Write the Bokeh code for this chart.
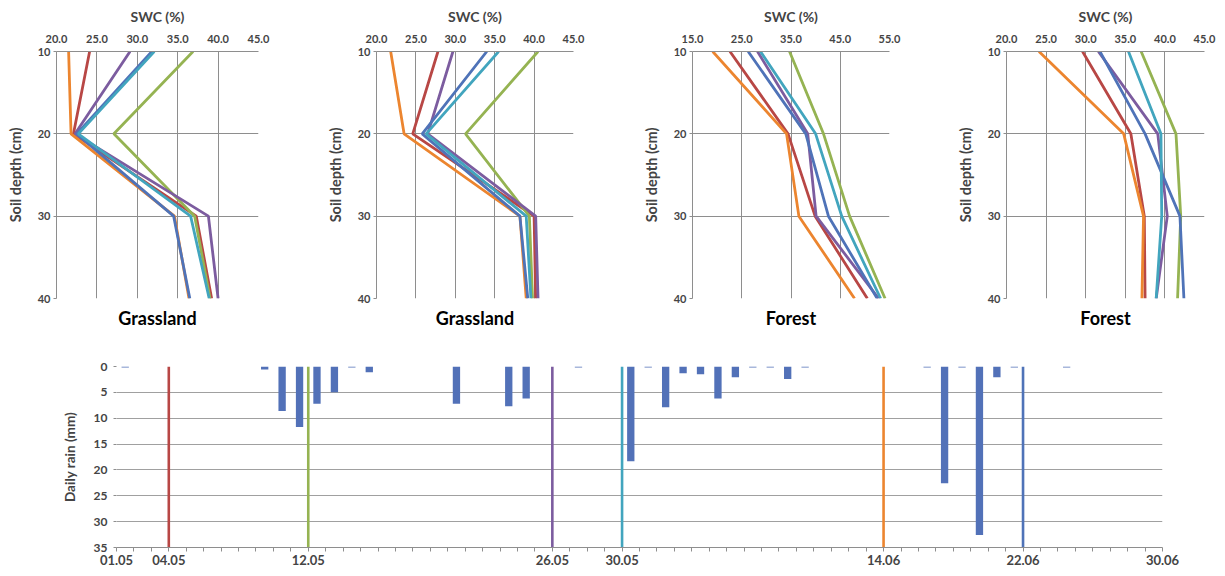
from bokeh.plotting import figure
from bokeh.layouts import column, row
from bokeh.models import Range1d, FixedTicker, Title, ColumnDataSource, PrintfTickFormatter
from bokeh.embed import file_html
from bokeh.resources import INLINE

# ---------------- data ----------------
depth = [10, 20, 30, 40]
measure_dates = ["04.05", "12.05", "26.05", "30.05", "14.06", "22.06"]

# SWC (%) per measurement date (rows) at depths 10, 20, 30, 40 cm
grassland1_swc = [
    [24.1, 22.1, 37.3, 39.2],   # 04.05
    [36.9, 27.1, 37.1, 39.0],   # 12.05
    [29.1, 22.3, 38.8, 40.0],   # 26.05
    [32.1, 22.7, 36.6, 38.9],   # 30.05
    [21.5, 21.8, 34.6, 36.4],   # 14.06
    [31.8, 22.5, 34.5, 36.5],   # 22.06
]
grassland2_swc = [
    [27.8, 24.6, 40.0, 40.2],
    [40.5, 31.3, 39.4, 39.8],
    [29.7, 26.5, 40.2, 40.5],
    [35.5, 26.3, 39.0, 39.6],
    [21.8, 23.5, 38.2, 39.0],
    [34.0, 25.8, 38.2, 39.2],
]
forest1_swc = [
    [22.6, 34.4, 39.9, 50.5],
    [34.7, 41.6, 46.9, 54.1],
    [28.2, 38.4, 40.1, 52.8],
    [28.8, 40.0, 45.3, 53.2],
    [19.1, 34.1, 36.6, 47.9],
    [26.3, 38.0, 42.6, 52.5],
]
forest2_swc = [
    [29.6, 35.7, 37.4, 37.5],
    [37.0, 41.4, 42.0, 41.6],
    [31.6, 39.1, 40.3, 38.9],
    [35.4, 39.5, 39.6, 38.9],
    [24.1, 34.8, 37.3, 37.1],
    [31.8, 37.5, 41.9, 42.4],
]
panel_titles = ["Grassland", "Grassland", "Forest", "Forest"]
panel_xticks = [
    [20, 25, 30, 35, 40, 45],
    [20, 25, 30, 35, 40, 45],
    [15, 25, 35, 45, 55],
    [20, 25, 30, 35, 40, 45],
]

rain_dates = ["01.05", "09.05", "10.05", "11.05", "12.05", "13.05", "14.05", "15.05",
              "20.05", "23.05", "24.05", "27.05", "30.05", "31.05", "01.06", "02.06",
              "03.06", "04.06", "05.06", "06.06", "07.06", "08.06", "09.06", "16.06",
              "17.06", "18.06", "19.06", "20.06", "21.06", "24.06"]
rain_mm = [0.2, 0.6, 8.6, 11.7, 7.2, 5.0, 0.2, 1.1,
           7.2, 7.7, 6.2, 0.2, 18.3, 0.2, 7.9, 1.3,
           1.5, 6.2, 2.1, 0.2, 0.2, 2.4, 0.2, 0.2,
           22.6, 0.2, 32.6, 2.1, 0.2, 0.2]
axis_dates = ["01.05", "04.05", "12.05", "26.05", "30.05", "14.06", "22.06", "30.06"]

# ---------------- style ----------------
series_colors = ["#B84745", "#95B352", "#7C5C9F", "#42A5BE", "#EC852F", "#4F73B8"]
draw_order = [0, 1, 2, 4, 5, 3]
FONT = "Lato"
GRID = "#8e8e8e"


def day_index(d):
    dd, mm = d.split(".")
    return int(dd) - 1 + (31 if mm == "06" else 0)


def profile_panel(swc, xticks, title, width, border_left, border_right):
    p = figure(width=width, height=338, output_backend="svg", toolbar_location=None,
               x_axis_location="above",
               x_range=Range1d(xticks[0], xticks[-1]), y_range=Range1d(40, 10),
               min_border_left=border_left, min_border_right=border_right,
               min_border_top=51, min_border_bottom=40)
    p.outline_line_color = None
    p.background_fill_color = "white"
    for k in draw_order:
        p.line(swc[k], depth, line_color=series_colors[k], line_width=2.8)
    xa = p.xaxis[0]
    xa.ticker = FixedTicker(ticks=xticks)
    xa.formatter = PrintfTickFormatter(format="%.1f")
    xa.axis_label = "SWC (%)"
    xa.axis_label_text_font = FONT
    xa.axis_label_text_font_style = "bold"
    xa.axis_label_text_font_size = "14px"
    xa.axis_label_standoff = 7
    xa.major_label_text_font = FONT
    xa.major_label_text_font_style = "bold"
    xa.major_label_text_font_size = "11px"
    xa.major_label_standoff = 9
    xa.major_tick_out = 0
    xa.major_tick_in = 0
    xa.minor_tick_out = 0
    xa.minor_tick_in = 0
    xa.axis_line_color = GRID
    ya = p.yaxis[0]
    ya.ticker = FixedTicker(ticks=depth)
    ya.axis_label = "Soil depth (cm)"
    ya.axis_label_text_font = FONT
    ya.axis_label_text_font_style = "bold"
    ya.axis_label_text_font_size = "14.5px"
    ya.axis_label_standoff = 11
    ya.major_label_text_font = FONT
    ya.major_label_text_font_style = "bold"
    ya.major_label_text_font_size = "11px"
    ya.major_label_standoff = 3
    ya.major_tick_out = 3
    ya.major_tick_in = 0
    ya.minor_tick_out = 0
    ya.minor_tick_in = 0
    ya.axis_line_color = GRID
    ya.major_tick_line_color = GRID
    p.xgrid.grid_line_color = GRID
    p.ygrid.grid_line_color = GRID
    p.xgrid.ticker = FixedTicker(ticks=xticks)
    p.ygrid.ticker = FixedTicker(ticks=depth)
    p.add_layout(Title(text=title, align="center", text_font=FONT, text_font_style="bold",
                       text_font_size="18px", standoff=12, text_color="black"), "below")
    return p


panels = [
    profile_panel(grassland1_swc, panel_xticks[0], panel_titles[0], 323, 56, 65),
    profile_panel(grassland2_swc, panel_xticks[1], panel_titles[1], 316, 48, 66),
    profile_panel(forest1_swc, panel_xticks[2], panel_titles[2], 314, 48, 64),
    profile_panel(forest2_swc, panel_xticks[3], panel_titles[3], 264, 48, 13),
]

# ---------------- rain chart ----------------
ndays = day_index("30.06")
rain_src = ColumnDataSource(dict(x=[day_index(d) + 0.5 for d in rain_dates], top=rain_mm))
line_src = ColumnDataSource(dict(x=[day_index(d) for d in measure_dates],
                                 color=series_colors))

r = figure(width=1217, height=230, output_backend="svg", toolbar_location=None,
           x_range=Range1d(0, ndays), y_range=Range1d(35, 0),
           min_border_left=116, min_border_right=55, min_border_top=28, min_border_bottom=21)
r.outline_line_color = None
r.vbar(x="x", top="top", bottom=0, width=0.42, source=rain_src, fill_color="#5271B8",
       line_color=None)
r.segment(x0="x", y0=0, x1="x", y1=35, line_color="color", line_width=2.6, source=line_src)

xa = r.xaxis[0]
xa.ticker = FixedTicker(ticks=list(range(ndays + 1)))
labels = {i: "" for i in range(ndays + 1)}
for d in axis_dates:
    labels[day_index(d)] = d
xa.major_label_overrides = labels
xa.major_label_text_font = FONT
xa.major_label_text_font_style = "bold"
xa.major_label_text_font_size = "13px"
xa.major_label_standoff = 3
xa.major_tick_out = 4
xa.major_tick_in = 0
xa.minor_tick_out = 0
xa.minor_tick_in = 0
xa.axis_line_color = GRID
xa.major_tick_line_color = GRID
ya = r.yaxis[0]
ya.ticker = FixedTicker(ticks=[0, 5, 10, 15, 20, 25, 30, 35])
ya.axis_label = "Daily rain (mm)"
ya.axis_label_text_font = FONT
ya.axis_label_text_font_style = "bold"
ya.axis_label_text_font_size = "13.5px"
ya.axis_label_standoff = 13
ya.major_label_text_font = FONT
ya.major_label_text_font_style = "bold"
ya.major_label_text_font_size = "12px"
ya.major_label_standoff = 6
ya.major_tick_out = 3
ya.major_tick_in = 0
ya.minor_tick_out = 0
ya.minor_tick_in = 0
ya.axis_line_color = None
ya.major_tick_line_color = GRID
r.xgrid.grid_line_color = None
r.ygrid.grid_line_color = "#a0a0a0"
r.ygrid.ticker = FixedTicker(ticks=[0, 5, 10, 15, 20, 25, 30, 35])

layout = column(row(*panels, spacing=0), r, spacing=0)
open("out.html", "w").write(file_html(layout, INLINE))
